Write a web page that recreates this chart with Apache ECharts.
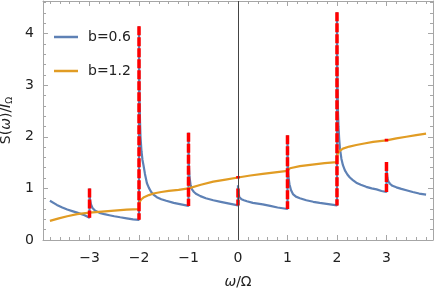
<!DOCTYPE html>
<html><head><meta charset="utf-8">
<script src="https://cdn.jsdelivr.net/npm/echarts@6/dist/echarts.min.js"></script>
<style>html,body{margin:0;padding:0;background:#fff}#c{width:436px;height:295px}</style>
</head><body><div id="c"></div>
<script>
const xTicks = [-3, -2, -1, 0, 1, 2, 3];
const yTicks = [0, 1, 2, 3, 4];
const seriesNames = ['b=0.6', 'b=1.2'];
const blueB06 = [
  [-3.80,0.76],[-3.66,0.68],[-3.55,0.63],[-3.45,0.59],[-3.35,0.56],[-3.25,0.53],[-3.10,0.48],[-3.00,0.43],
  [-3.00,1.00],[-2.995,0.86],[-2.99,0.78],[-2.97,0.69],[-2.94,0.62],[-2.90,0.58],[-2.85,0.55],[-2.78,0.52],[-2.70,0.50],[-2.60,0.48],[-2.50,0.46],[-2.38,0.44],[-2.25,0.42],[-2.12,0.40],[-2.00,0.39],
  [-2.00,4.14],[-1.995,3.20],[-1.99,2.80],[-1.98,2.30],[-1.97,2.00],[-1.95,1.72],[-1.93,1.55],[-1.91,1.45],[-1.88,1.28],[-1.84,1.10],[-1.80,1.01],[-1.76,0.94],[-1.71,0.88],[-1.64,0.83],[-1.55,0.79],[-1.45,0.76],[-1.30,0.72],[-1.15,0.69],[-1.00,0.66],
  [-1.00,2.08],[-0.995,1.60],[-0.99,1.40],[-0.98,1.22],[-0.96,1.08],[-0.93,0.98],[-0.89,0.93],[-0.84,0.89],[-0.76,0.85],[-0.65,0.81],[-0.50,0.77],[-0.35,0.74],[-0.20,0.71],[0.00,0.67],
  [0.00,1.06],[0.005,0.95],[0.01,0.89],[0.03,0.83],[0.07,0.79],[0.12,0.77],[0.18,0.75],[0.30,0.72],[0.50,0.69],[0.65,0.66],[0.80,0.63],[1.00,0.60],
  [1.00,2.03],[1.005,1.60],[1.01,1.40],[1.02,1.22],[1.04,1.08],[1.07,0.97],[1.11,0.89],[1.17,0.84],[1.25,0.81],[1.38,0.77],[1.52,0.74],[1.65,0.72],[1.79,0.70],[2.00,0.67],
  [2.00,4.41],[2.005,3.50],[2.01,3.00],[2.02,2.50],[2.03,2.20],[2.045,1.95],[2.06,1.77],[2.09,1.57],[2.12,1.45],[2.16,1.35],[2.21,1.27],[2.26,1.21],[2.32,1.16],[2.39,1.11],[2.48,1.07],[2.59,1.03],[2.70,1.00],[2.80,0.98],[2.90,0.95],[3.00,0.93],
  [3.00,1.51],[3.005,1.36],[3.01,1.28],[3.02,1.20],[3.04,1.13],[3.07,1.09],[3.12,1.05],[3.20,1.02],[3.30,0.99],[3.42,0.96],[3.53,0.93],[3.66,0.90],[3.80,0.88]
];
const orangeB12 = [
  [-3.80,0.37],[-3.62,0.42],[-3.45,0.46],[-3.25,0.50],[-3.00,0.53],[-2.75,0.55],[-2.50,0.57],[-2.25,0.59],[-2.00,0.60],
  [-2.00,0.70],[-1.98,0.75],[-1.95,0.79],[-1.90,0.83],[-1.80,0.87],[-1.71,0.90],[-1.55,0.93],[-1.40,0.95],[-1.20,0.97],[-1.00,1.00],
  [-0.75,1.07],[-0.50,1.13],[-0.25,1.17],[0.00,1.21],[0.25,1.25],[0.50,1.28],[0.75,1.31],[1.00,1.34],
  [1.01,1.37],[1.05,1.39],[1.25,1.43],[1.50,1.46],[1.75,1.49],[2.00,1.51],
  [2.00,1.62],[2.02,1.68],[2.05,1.72],[2.12,1.77],[2.25,1.81],[2.39,1.84],[2.55,1.87],[2.73,1.90],[3.00,1.93],[3.20,1.97],[3.40,2.00],[3.60,2.03],[3.80,2.06]
];
const jumpX    = [-3, -2, -1, 0, 1, 2, 3, 0, 3];
const jumpLow  = [0.43, 0.39, 0.66, 0.67, 0.60, 0.67, 0.93, 1.19, 1.91];
const jumpHigh = [1.00, 4.14, 2.08, 1.00, 2.03, 4.41, 1.51, 1.24, 1.96];

const FONT = 'DejaVu Sans';
const FRAME = '#a6a6a6';
const XMIN = -3.94, XMAX = 3.94, YMIN = 0, YMAX = 4.63;
const xMinor = []; for (let i = -19; i <= 19; i++) xMinor.push(Math.round(i * 2) / 10);
const yMinor = []; for (let i = 1; i <= 23; i++) yMinor.push(Math.round(i * 2) / 10);
const fmt = v => (v < 0 ? '\u2212' + Math.abs(v) : String(v));

function xAx(pos, major, showLabel) {
  return {
    type: 'value', min: XMIN, max: XMAX, position: pos,
    axisLine: { show: major, onZero: false, lineStyle: { color: FRAME, width: 1 } },
    axisTick: { show: true, inside: true, length: major ? 5 : 3, customValues: major ? xTicks : xMinor, lineStyle: { color: FRAME } },
    axisLabel: { show: showLabel, customValues: xTicks, formatter: fmt, margin: 11, fontFamily: FONT, fontSize: 14, color: '#222' },
    splitLine: { show: false }
  };
}
function yAx(pos, major, showLabel) {
  return {
    type: 'value', min: YMIN, max: YMAX, position: pos,
    axisLine: { show: major, onZero: false, lineStyle: { color: FRAME, width: 1 } },
    axisTick: { show: true, inside: true, length: major ? 5 : 3, customValues: major ? yTicks : yMinor, lineStyle: { color: FRAME } },
    axisLabel: { show: showLabel, customValues: yTicks, formatter: fmt, margin: 9, fontFamily: FONT, fontSize: 14, color: '#222' },
    splitLine: { show: false }
  };
}
const xAxes = [xAx('bottom', true, true), xAx('bottom', false, false), xAx('top', true, false), xAx('top', false, false)];
xAxes[0].name = '{i|ω}{r|/Ω}';
xAxes[0].nameLocation = 'middle';
xAxes[0].nameGap = 35;
xAxes[0].nameTextStyle = { rich: { i: { fontFamily: FONT, fontSize: 14, fontStyle: 'italic', color: '#222' }, r: { fontFamily: FONT, fontSize: 14, color: '#222' } } };
const yAxes = [yAx('left', true, true), yAx('left', false, false), yAx('right', true, false), yAx('right', false, false)];
yAxes[0].name = '{r|S(}{i|ω}{r|)/}{i|I}{s|Ω}';
yAxes[0].nameLocation = 'middle';
yAxes[0].nameRotate = 90;
yAxes[0].nameGap = 26;
yAxes[0].nameTextStyle = { rich: {
  r: { fontFamily: FONT, fontSize: 14, color: '#222' },
  i: { fontFamily: FONT, fontSize: 14, fontStyle: 'italic', color: '#222' },
  s: { fontFamily: FONT, fontSize: 9, color: '#222', padding: [6, 0, 0, 0] }
} };

const series = [
  { name: seriesNames[0], type: 'line', data: blueB06, showSymbol: false, symbol: 'none', color: '#5E81B5', lineStyle: { width: 2.2 }, z: 2,
    markLine: { silent: true, symbol: 'none', label: { show: false }, lineStyle: { color: '#444', width: 1, type: 'solid' }, data: [{ xAxis: 0 }] } },
  { name: seriesNames[1], type: 'line', data: orangeB12, showSymbol: false, symbol: 'none', color: '#E19C24', lineStyle: { width: 2.2 }, z: 3 }
];
for (let k = 0; k < jumpX.length; k++) {
  series.push({ type: 'line', silent: true, symbol: 'none', z: 4,
    data: [[jumpX[k], jumpHigh[k]], [jumpX[k], jumpLow[k]]],
    lineStyle: { color: '#FF0000', width: 3.5, type: [9, 2] } });
}

const chart = echarts.init(document.getElementById('c'), null, { renderer: 'canvas' });
chart.setOption({
  animation: false,
  backgroundColor: '#fff',
  grid: { left: 43, right: 3, top: 1, bottom: 55, containLabel: false, outerBoundsMode: 'none' },
  xAxis: xAxes,
  yAxis: yAxes,
  legend: {
    data: seriesNames.map(n => ({ name: n, icon: 'rect' })),
    orient: 'vertical', left: 49, top: 25, itemWidth: 24, itemHeight: 2.5, itemGap: 20,
    textStyle: { fontFamily: FONT, fontSize: 14, color: '#222', padding: [0, 0, 0, 5] }
  },
  series: series
});
</script></body></html>
